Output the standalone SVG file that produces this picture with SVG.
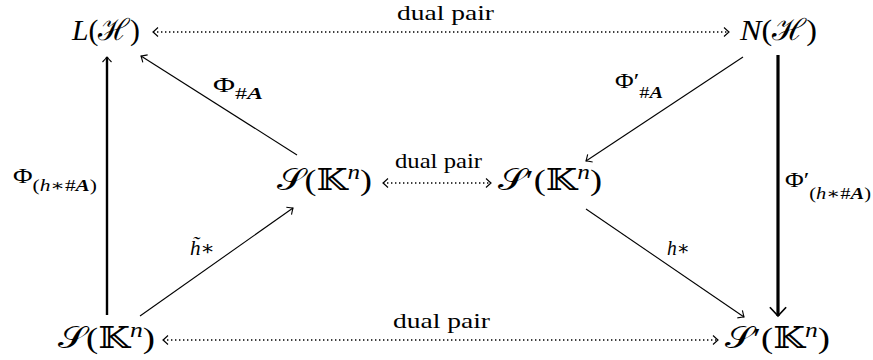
<svg xmlns="http://www.w3.org/2000/svg" width="873" height="360" viewBox="0 0 873 360">
<defs>
<style>
text{font-family:"Liberation Serif","DejaVu Serif",serif;fill:#000}
.node{font-size:30px}
.it{font-style:italic}
.bi{font-style:italic;font-weight:bold}
.lab{font-size:20px}
.sub{font-size:16px}
.dual{font-size:22px}
.dot{stroke:#000;stroke-width:1.4;stroke-dasharray:1.4 2.6;fill:none}
.thin{stroke:#000;stroke-width:1.1;fill:none}
.thick{stroke:#000;stroke-width:2.4;fill:none}
.thicker{stroke:#000;stroke-width:3.2;fill:none}
</style>
<marker id="ah" markerUnits="userSpaceOnUse" markerWidth="14" markerHeight="14" refX="0" refY="0" viewBox="-8 -7 10 14" orient="auto-start-reverse" overflow="visible">
<path d="M-5,-4.5 Q-1.5,-1.2 0,0 Q-1.5,1.2 -5,4.5" fill="none" stroke="#000" stroke-width="1.1"/>
</marker>
<marker id="ahb" markerUnits="userSpaceOnUse" markerWidth="20" markerHeight="20" refX="0" refY="0" viewBox="-10 -8 12 16" orient="auto" overflow="visible">
<path d="M-7,-6.5 Q-2,-1.8 0,0 Q-2,1.8 -7,6.5" fill="none" stroke="#000" stroke-width="1.4"/>
</marker>
</defs>
<rect width="873" height="360" fill="#fff"/>
<g id="connectors">
<line class="dot" x1="153" y1="32" x2="729" y2="32" marker-start="url(#ah)" marker-end="url(#ah)"/>
<line class="dot" x1="383" y1="183" x2="491" y2="183" marker-start="url(#ah)" marker-end="url(#ah)"/>
<line class="dot" x1="163" y1="340" x2="718" y2="340" marker-start="url(#ah)" marker-end="url(#ah)"/>
<line class="thick" x1="107" y1="315" x2="107" y2="57" marker-end="url(#ah)"/>
<line class="thicker" x1="778" y1="55" x2="778" y2="316" marker-end="url(#ahb)"/>
<line class="thin" x1="297" y1="155" x2="141" y2="56" marker-end="url(#ah)"/>
<line class="thin" x1="743" y1="57" x2="586" y2="161" marker-end="url(#ah)"/>
<line class="thin" x1="140" y1="316" x2="293" y2="208" marker-end="url(#ah)"/>
<line class="thin" x1="586" y1="209" x2="744" y2="317" marker-end="url(#ah)"/>
</g>
<g id="labels">
<text class="dual" x="397" y="20" textLength="97" lengthAdjust="spacingAndGlyphs">dual pair</text>
<text class="dual" x="395" y="168" textLength="87" lengthAdjust="spacingAndGlyphs">dual pair</text>
<text class="dual" x="393" y="328" textLength="97" lengthAdjust="spacingAndGlyphs">dual pair</text>
<text class="lab" x="213" y="92" textLength="50" lengthAdjust="spacingAndGlyphs">Φ<tspan class="sub" y="99">#<tspan class="bi">A</tspan></tspan></text>
<text class="lab" x="615" y="88" textLength="48" lengthAdjust="spacingAndGlyphs">Φ′<tspan class="sub" y="98">#<tspan class="bi">A</tspan></tspan></text>
<text class="lab" x="13" y="183" textLength="84" lengthAdjust="spacingAndGlyphs">Φ<tspan class="sub" y="191">(<tspan class="it">h</tspan>∗#<tspan class="bi">A</tspan>)</tspan></text>
<text class="lab" x="785" y="187" textLength="86" lengthAdjust="spacingAndGlyphs">Φ′<tspan class="sub" y="199">(<tspan class="it">h</tspan>∗#<tspan class="bi">A</tspan>)</tspan></text>
<text class="lab" x="190" y="255" textLength="25" lengthAdjust="spacingAndGlyphs"><tspan class="it">h̃</tspan>∗</text>
<text class="lab" x="667" y="255" textLength="23" lengthAdjust="spacingAndGlyphs"><tspan class="it">h</tspan>∗</text>
</g>
<g id="node-LH"><text class="node" x="72" y="40" textLength="68" lengthAdjust="spacingAndGlyphs"><tspan class="it">L</tspan>(ℋ)</text></g>
<g id="node-NH"><text class="node" x="740" y="40" textLength="77" lengthAdjust="spacingAndGlyphs"><tspan class="it">N</tspan>(ℋ)</text></g>
<g id="node-S-mid"><text class="node" x="277" y="190" textLength="95" lengthAdjust="spacingAndGlyphs">𝒮(𝕂<tspan class="it" font-size="21" dy="-11">n</tspan><tspan dy="11">)</tspan></text></g>
<g id="node-Sp-mid"><text class="node" x="498" y="190" textLength="104" lengthAdjust="spacingAndGlyphs">𝒮′(𝕂<tspan class="it" font-size="21" dy="-11">n</tspan><tspan dy="11">)</tspan></text></g>
<g id="node-S-bot"><text class="node" x="58" y="348" textLength="97" lengthAdjust="spacingAndGlyphs">𝒮(𝕂<tspan class="it" font-size="21" dy="-11">n</tspan><tspan dy="11">)</tspan></text></g>
<g id="node-Sp-bot"><text class="node" x="725" y="348" textLength="105" lengthAdjust="spacingAndGlyphs">𝒮′(𝕂<tspan class="it" font-size="21" dy="-11">n</tspan><tspan dy="11">)</tspan></text></g>
</svg>
